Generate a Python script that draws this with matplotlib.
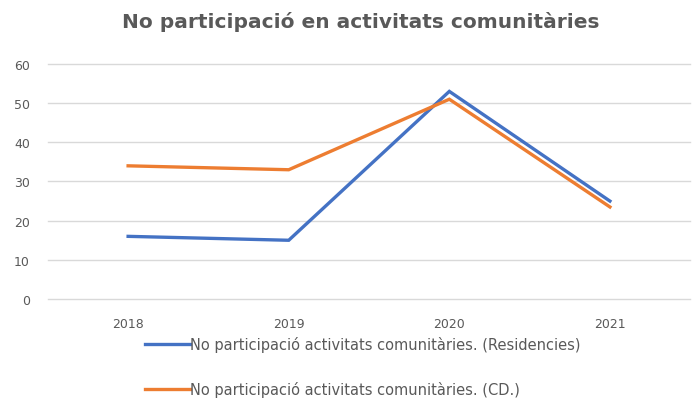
#!/usr/bin/env python3

import matplotlib
matplotlib.use("Agg")
import matplotlib.pyplot as plt

years = ["2018", "2019", "2020", "2021"]
residencies = [16, 15, 53, 25]
cd = [34, 33, 51, 23.5]
labels = [
    "No participació activitats comunitàries. (Residencies)",
    "No participació activitats comunitàries. (CD.)",
]
title = "No participació en activitats comunitàries"

grey = "#595959"

fig = plt.figure(figsize=(6.93, 4.06), dpi=100)
ax = fig.add_axes([0.069, 0.261, 0.927, 0.579])

x = range(len(years))
l1, = ax.plot(x, residencies, color="#4472C4", lw=2.4, solid_joinstyle="miter")
l2, = ax.plot(x, cd, color="#ED7D31", lw=2.4, solid_joinstyle="miter")

ax.set_xlim(-0.5, len(years) - 0.5)
ax.set_ylim(0, 60)
ax.set_yticks(range(0, 61, 10))
ax.set_xticks(list(x))
ax.set_xticklabels(years)
ax.grid(axis="y", color="#d9d9d9", lw=1)
for g in ax.get_ygridlines():
    g.set_clip_on(False)
ax.set_axisbelow(True)
for s in ax.spines.values():
    s.set_visible(False)
ax.tick_params(length=0, colors=grey, labelsize=9)
ax.tick_params(axis="y", pad=13)
ax.tick_params(axis="x", pad=13)

fig.text(0.52, 0.946, title, ha="center", va="center", fontsize=14.5,
         fontweight="bold", color=grey)

leg = fig.legend([l1, l2], labels, loc="upper left",
                 bbox_to_anchor=(145 / 693, 1 - 337 / 406),
                 frameon=False, fontsize=10.5, borderpad=0, borderaxespad=0,
                 handletextpad=0, handlelength=3.1, labelspacing=2.0)
for t in leg.get_texts():
    t.set_color(grey)

fig.savefig("out.png", dpi=100)
